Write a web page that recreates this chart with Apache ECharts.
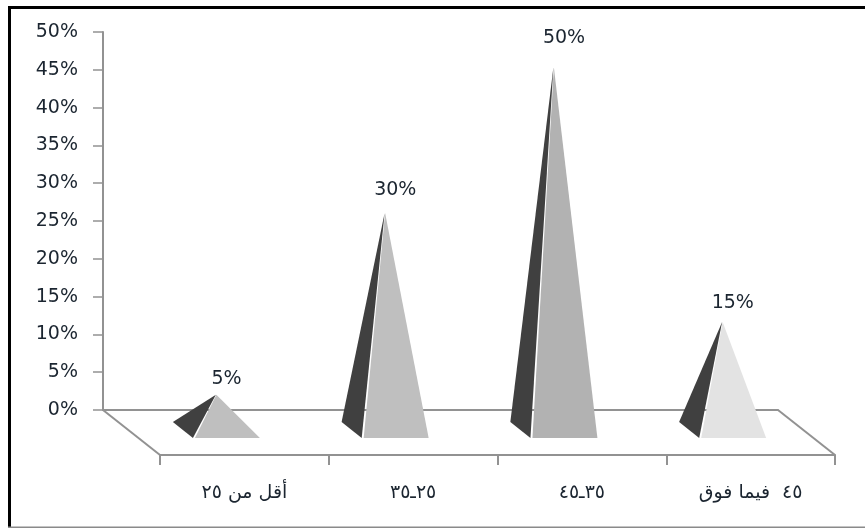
<!DOCTYPE html>
<html>
<head>
<meta charset="utf-8">
<style>html,body{margin:0;padding:0;background:#fff}#chart{width:865px;height:528px}</style>
<script src="https://cdn.jsdelivr.net/npm/echarts@6/dist/echarts.min.js"></script>
</head>
<body>
<div id="chart"></div>
<script>
// Age groups and their share of respondents (%)
const categories = ['\u202Bأقل من ٢٥\u202C', '\u202B٢٥ـ٣٥\u202C', '\u202B٣٥ـ٤٥\u202C', '\u202B٤٥  فيما فوق\u202C'];
const shares = [5, 30, 50, 15];
const valueTicks = [0, 5, 10, 15, 20, 25, 30, 35, 40, 45, 50];
const lightFaces = ['#bfbfbf', '#bfbfbf', '#b2b2b2', '#e3e3e3'];

const AXIS = '#929292';
const INK = '#1b2530';
const DARK_FACE = '#404040';
const FONT = '"DejaVu Sans", sans-serif';

// Pseudo-3D layout: a back wall, a pyramid plane set into the floor, a front edge
const wall = { left: 103, right: 778, top: 32, bottom: 410 };
const plane = { left: 131.5, right: 806.5, top: 67.5, bottom: 431 };
const front = { left: 160, right: 835, top: 100, bottom: 455 };
const gridOf = (r) => ({ left: r.left, top: r.top, width: r.right - r.left, height: r.bottom - r.top });

const catAxis = (gridIndex, extra) => Object.assign({
  type: 'category', gridIndex, data: categories,
  axisLine: { show: false }, axisTick: { show: false }, axisLabel: { show: false }
}, extra);
const hiddenValue = (gridIndex) => ({
  type: 'value', gridIndex, min: 0, max: 50, interval: 5, show: false
});

function renderPyramid(params, api) {
  const i = api.value(0);
  const tip = api.coord([i, api.value(1)]);
  const base = api.coord([i, 0]);
  const band = api.size([1, 0])[0];
  const frontY = base[1] + 7;
  const backY = base[1] - 9;
  const leftX = tip[0] - band * 0.255;
  const midX = tip[0] - band * 0.13;
  const rightX = tip[0] + band * 0.261;
  return {
    type: 'group',
    children: [
      { type: 'polygon', shape: { points: [tip, [leftX, backY], [midX - 1, frontY]] }, style: { fill: DARK_FACE } },
      { type: 'polygon', shape: { points: [[tip[0] + 0.5, tip[1]], [midX + 1, frontY], [rightX, frontY]] }, style: { fill: lightFaces[i] } }
    ]
  };
}

function renderValueLabel(params, api) {
  const p = api.coord([api.value(0), api.value(1)]);
  const band = api.size([1, 0])[0];
  return {
    type: 'text',
    x: p[0] + band * 0.232,
    y: p[1] + 6.5,
    style: { text: api.value(1) + '%', fill: INK, font: '19px ' + FONT, textAlign: 'center', textVerticalAlign: 'middle' }
  };
}

const pairs = shares.map((v, i) => [i, v]);

const chart = echarts.init(document.getElementById('chart'), null, { renderer: 'canvas' });
chart.setOption({
  animation: false,
  backgroundColor: '#fff',
  grid: [gridOf(wall), gridOf(plane), gridOf(front)],
  xAxis: [
    catAxis(0, { axisLine: { show: true, lineStyle: { color: AXIS, width: 2 } } }),
    catAxis(1),
    catAxis(2, {
      axisLine: { show: true, lineStyle: { color: AXIS, width: 2 } },
      axisTick: { show: true, length: 10, lineStyle: { color: AXIS, width: 2 } },
      axisLabel: { show: true, margin: 29, color: INK, fontFamily: FONT, fontSize: 19, interval: 0 }
    })
  ],
  yAxis: [
    {
      type: 'value', gridIndex: 0, min: valueTicks[0], max: valueTicks[valueTicks.length - 1], interval: valueTicks[1],
      splitLine: { show: false },
      axisLine: { show: true, lineStyle: { color: AXIS, width: 2 } },
      axisTick: { show: true, length: 10, lineStyle: { color: AXIS, width: 1.5 } },
      axisLabel: { margin: 25, color: INK, fontFamily: FONT, fontSize: 19, padding: [3, 0, 0, 0], formatter: '{value}%' }
    },
    hiddenValue(1),
    hiddenValue(2)
  ],
  series: [
    { type: 'custom', xAxisIndex: 1, yAxisIndex: 1, data: pairs, renderItem: renderPyramid, clip: false, z: 5 },
    { type: 'custom', xAxisIndex: 0, yAxisIndex: 0, data: pairs, renderItem: renderValueLabel, clip: false, z: 6 }
  ],
  graphic: [
    // Floor side edges joining the wall baseline to the front edge
    { type: 'line', z: 1, shape: { x1: wall.left, y1: wall.bottom, x2: front.left, y2: front.bottom }, style: { stroke: AXIS, lineWidth: 2 } },
    { type: 'line', z: 1, shape: { x1: wall.right, y1: wall.bottom, x2: front.right, y2: front.bottom }, style: { stroke: AXIS, lineWidth: 2 } },
    // Outer frame of the chart area
    { type: 'rect', z: 10, shape: { x: 8, y: 6, width: 857, height: 3 }, style: { fill: '#000' } },
    { type: 'rect', z: 10, shape: { x: 8, y: 6, width: 3, height: 522 }, style: { fill: '#000' } },
    { type: 'rect', z: 10, shape: { x: 8, y: 526.5, width: 857, height: 1.5 }, style: { fill: '#8a8a8a' } }
  ]
});
</script>
</body>
</html>
